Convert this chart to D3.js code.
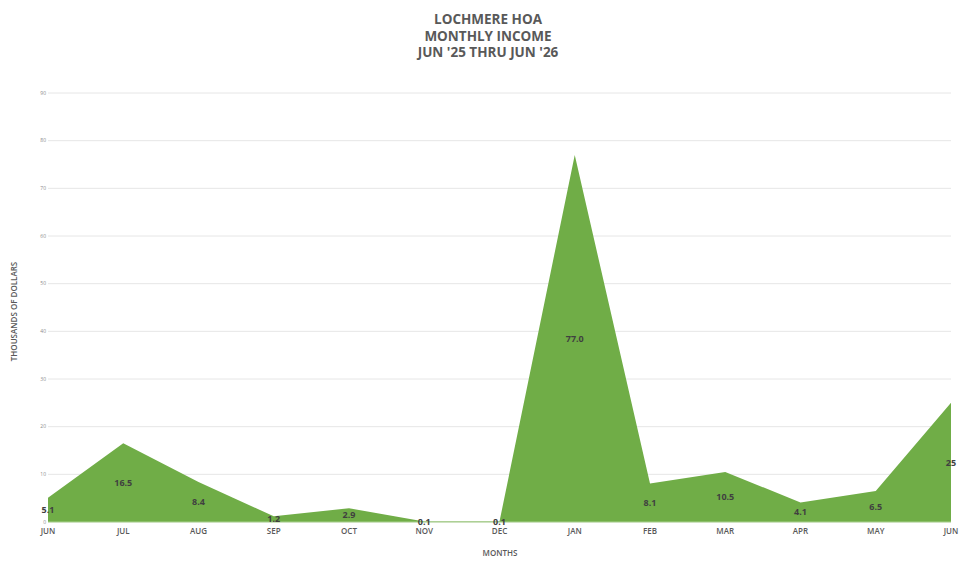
<!DOCTYPE html>
<html>
<head>
<meta charset="utf-8">
<script src="https://d3js.org/d3.v7.min.js"></script>
<style>
  body { margin: 0; background: #fff; }
  svg text { font-family: "Open Sans", "DejaVu Sans", sans-serif; }
</style>
</head>
<body>
<div id="chart"></div>
<script>
// data
const months = ["JUN", "JUL", "AUG", "SEP", "OCT", "NOV", "DEC", "JAN", "FEB", "MAR", "APR", "MAY", "JUN"];
const income = [5.1, 16.5, 8.4, 1.2, 2.9, 0.1, 0.1, 77.0, 8.1, 10.5, 4.1, 6.5, 25];
const valueLabels = ["5.1", "16.5", "8.4", "1.2", "2.9", "0.1", "0.1", "77.0", "8.1", "10.5", "4.1", "6.5", "25"];
const yTicks = [0, 10, 20, 30, 40, 50, 60, 70, 80, 90];
const titleLines = ["LOCHMERE HOA", "MONTHLY INCOME", "JUN '25 THRU JUN '26"];

const width = 976, height = 566;
const margin = { top: 93, right: 25, bottom: 44, left: 48 };

const svg = d3.select("#chart")
    .append("svg")
    .attr("width", width)
    .attr("height", height);

const idx = months.map((d, i) => i);

const x = d3.scaleLinear()
    .domain([0, months.length - 1])
    .range([margin.left, width - margin.right]);

const y = d3.scaleLinear()
    .domain([0, 90])
    .range([height - margin.bottom, margin.top]);

// gridlines
svg.append("g")
    .selectAll("line")
    .data(yTicks)
    .join("line")
    .attr("x1", x(0))
    .attr("x2", x(months.length - 1))
    .attr("y1", d => y(d))
    .attr("y2", d => y(d))
    .attr("stroke", "#e6e6e6")
    .attr("stroke-width", 1);

// y tick labels
svg.append("g")
    .selectAll("text")
    .data(yTicks)
    .join("text")
    .attr("x", x(0) - 2)
    .attr("y", d => y(d))
    .attr("dy", "0.35em")
    .attr("text-anchor", "end")
    .attr("font-size", 5)
    .attr("fill", "#8c8c8c")
    .text(d => d);

// area
const area = d3.area()
    .x(i => x(i))
    .y0(y(0))
    .y1(i => y(income[i]));

svg.append("path")
    .datum(idx)
    .attr("fill", "#70ad47")
    .attr("d", area);

// baseline
svg.append("line")
    .attr("x1", x(0))
    .attr("x2", x(months.length - 1))
    .attr("y1", y(0))
    .attr("y2", y(0))
    .attr("stroke", "#a9d18e")
    .attr("stroke-width", 1);

// x axis labels
svg.append("g")
    .selectAll("text")
    .data(idx)
    .join("text")
    .attr("x", i => x(i))
    .attr("y", y(0) + 12)
    .attr("text-anchor", "middle")
    .attr("font-size", 8)
    .attr("font-weight", 600)
    .attr("fill", "#595959")
    .text(i => months[i]);

// data labels, centred in the area
svg.append("g")
    .selectAll("text")
    .data(idx)
    .join("text")
    .attr("x", i => x(i))
    .attr("y", i => y(income[i] / 2))
    .attr("dy", "0.35em")
    .attr("text-anchor", "middle")
    .attr("font-size", 9)
    .attr("font-weight", 700)
    .attr("fill", "#404040")
    .text(i => valueLabels[i]);

// title
svg.append("text")
    .attr("text-anchor", "middle")
    .attr("font-size", 13.5)
    .attr("font-weight", 700)
    .attr("fill", "#595959")
    .selectAll("tspan")
    .data(titleLines)
    .join("tspan")
    .attr("x", 488)
    .attr("y", (d, i) => 24 + i * 16.5)
    .text(d => d);

// axis titles
svg.append("text")
    .attr("transform", "translate(17," + ((y(0) + y(90)) / 2 + 4) + ") rotate(-90)")
    .attr("text-anchor", "middle")
    .attr("font-size", 8)
    .attr("font-weight", 600)
    .attr("fill", "#595959")
    .text("THOUSANDS OF DOLLARS");

svg.append("text")
    .attr("x", 500)
    .attr("y", 556)
    .attr("text-anchor", "middle")
    .attr("font-size", 8)
    .attr("font-weight", 600)
    .attr("fill", "#595959")
    .text("MONTHS");
</script>
</body>
</html>
